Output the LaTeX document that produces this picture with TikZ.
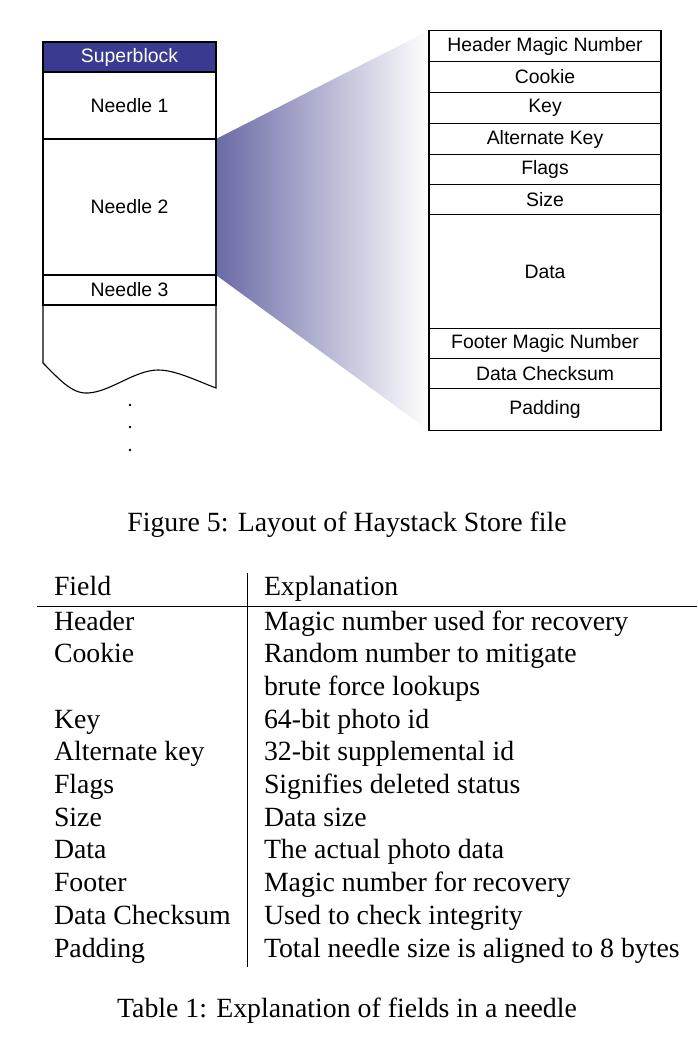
\documentclass[tikz,border=0pt]{standalone}
\usepackage{fontspec}
\setmainfont{Liberation Serif}
\setsansfont{Liberation Sans}
\usetikzlibrary{positioning,backgrounds}
\definecolor{superblue}{RGB}{58,58,145}
\definecolor{fadeblue}{RGB}{106,106,166}

\begin{document}
\begin{tikzpicture}[x=1pt,y=-1pt,node distance=0pt,
  every node/.style={inner sep=0pt,outer sep=0pt},
  needle/.style={draw,line width=1.1pt,minimum width=173pt,font=\sffamily\fontsize{19.4}{22}\selectfont},
  field/.style={draw,line width=1.1pt,minimum width=232pt,font=\sffamily\fontsize{19.4}{22}\selectfont},
  cell/.style={anchor=base west,font=\fontsize{27.8}{33}\selectfont},
  caption/.style={anchor=base,font=\fontsize{27.8}{33}\selectfont}]
\useasboundingbox (0,0) rectangle (697,1038);

% store file
\node[needle,fill=superblue,text=white,minimum height=30pt,anchor=north west] (sb) at (43,42) {Superblock};
\node[needle,minimum height=67pt,below=of sb] (n1) {Needle 1};
\node[needle,minimum height=136pt,below=of n1] (n2) {Needle 2};
\node[needle,minimum height=30pt,below=of n2] (n3) {Needle 3};
\coordinate (wl) at (43,363);
\coordinate (wr) at (216,388);
\draw[line width=1.1pt] (n3.south west) -- (wl) .. controls (60,380) and (72,394) .. (88,393)
  .. controls (110,392) and (135,370) .. (158,370) .. controls (175,370) and (195,380) .. (wr) -- (n3.south east);
\fill (130,405) circle (1.4pt);
\fill (130,427) circle (1.4pt);
\fill (130,450) circle (1.4pt);

% needle layout
\node[field,minimum height=31pt,anchor=north west] (hdr) at (429,30.5) {Header Magic Number};
\node[field,minimum height=31pt,below=of hdr] (cookie) {Cookie};
\node[field,minimum height=31pt,below=of cookie] (key) {Key};
\node[field,minimum height=31pt,below=of key] (altkey) {Alternate Key};
\node[field,minimum height=30pt,below=of altkey] (flags) {Flags};
\node[field,minimum height=30pt,below=of flags] (size) {Size};
\node[field,minimum height=114pt,below=of size] (data) {Data};
\node[field,minimum height=30pt,below=of data] (ftr) {Footer Magic Number};
\node[field,minimum height=30pt,below=of ftr] (cksum) {Data Checksum};
\node[field,minimum height=42pt,below=of cksum] (pad) {Padding};

\begin{scope}[on background layer]
\shade[left color=fadeblue,right color=white] (n2.north east) -- (hdr.north west) -- (pad.south west) -- (n2.south east) -- cycle;
\end{scope}

\node[caption] (fig) at (347,531) {Figure 5: Layout of Haystack Store file};

% table
\coordinate (vtop) at (247,573);
\coordinate (vbot) at (247,967);
\coordinate (hl) at (37,606);
\coordinate (hr) at (697,606);
\draw[line width=0.8pt] (vtop) -- (vbot);
\draw[line width=0.9pt] (hl) -- (hr);
\node[cell] (fhead) at (54,595) {Field};
\node[cell] (ehead) at (264,595) {Explanation};
\node[cell] (f1) at (54,630) {Header};
\node[cell] (e1) at (264,630) {Magic number used for recovery};
\node[cell] (f2) at (54,662.7) {Cookie};
\node[cell] (e2) at (264,662.7) {Random number to mitigate};
\node[cell] (e2b) at (264,695.4) {brute force lookups};
\node[cell] (f3) at (54,728.1) {Key};
\node[cell] (e3) at (264,728.1) {64-bit photo id};
\node[cell] (f4) at (54,760.8) {Alternate key};
\node[cell] (e4) at (264,760.8) {32-bit supplemental id};
\node[cell] (f5) at (54,793.5) {Flags};
\node[cell] (e5) at (264,793.5) {Signifies deleted status};
\node[cell] (f6) at (54,826.2) {Size};
\node[cell] (e6) at (264,826.2) {Data size};
\node[cell] (f7) at (54,858.9) {Data};
\node[cell] (e7) at (264,858.9) {The actual photo data};
\node[cell] (f8) at (54,891.6) {Footer};
\node[cell] (e8) at (264,891.6) {Magic number for recovery};
\node[cell] (f9) at (54,924.3) {Data Checksum};
\node[cell] (e9) at (264,924.3) {Used to check integrity};
\node[cell] (f10) at (54,957) {Padding};
\node[cell] (e10) at (264,957) {Total needle size is aligned to 8 bytes};

\node[caption] (tab) at (347,1017) {Table 1: Explanation of fields in a needle};
\end{tikzpicture}
\end{document}
